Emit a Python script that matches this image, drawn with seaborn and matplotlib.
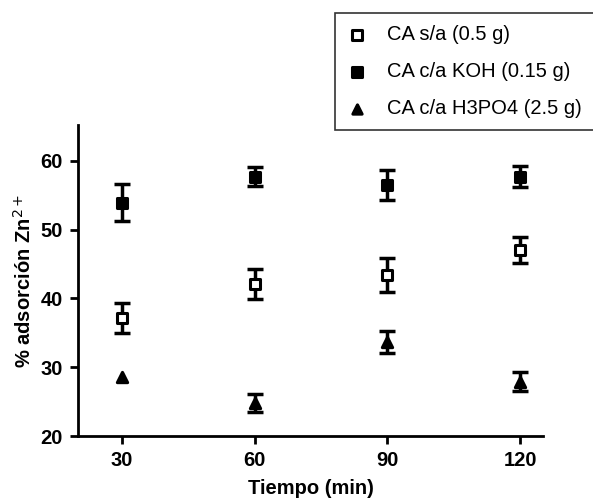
import matplotlib
matplotlib.use("Agg")
import matplotlib.pyplot as plt
import seaborn as sns
import pandas as pd

tiempo = [30, 60, 90, 120]
series = ["CA s/a (0.5 g)", "CA c/a KOH (0.15 g)", "CA c/a H3PO4 (2.5 g)"]
ca_sa = [37.2, 42.1, 43.4, 47.0]
ca_sa_err = [2.2, 2.2, 2.5, 1.9]
ca_koh = [53.9, 57.7, 56.5, 57.7]
ca_koh_err = [2.7, 1.4, 2.2, 1.5]
ca_h3po4 = [28.6, 24.8, 33.7, 27.9]
ca_h3po4_err = [0.0, 1.3, 1.6, 1.4]

rows = []
for name, vals, errs in zip(series, [ca_sa, ca_koh, ca_h3po4],
                            [ca_sa_err, ca_koh_err, ca_h3po4_err]):
    for t, v, e in zip(tiempo, vals, errs):
        rows.append({"Tiempo": t, "adsorcion": v, "err": e, "serie": name})
df = pd.DataFrame(rows)

sns.set_style("ticks")
plt.rcParams['font.family'] = ['Liberation Sans', 'DejaVu Sans']
plt.rcParams.update({"text.color": "black", "axes.labelcolor": "black",
                     "xtick.color": "black", "ytick.color": "black"})

fig = plt.figure(figsize=(5.93, 5.0), dpi=100)
ax = fig.add_axes([0.1315, 0.128, 0.7842, 0.622])

styles = {
    series[0]: dict(marker="s", facecolor="white", size=55),
    series[1]: dict(marker="s", facecolor="black", size=55),
    series[2]: dict(marker="^", facecolor="black", size=55),
}

for name in series:
    d = df[df["serie"] == name]
    st = styles[name]
    e = d[d["err"] > 0]
    ax.errorbar(e["Tiempo"], e["adsorcion"], yerr=e["err"], fmt="none",
                ecolor="black", elinewidth=2.5, capsize=5.5, capthick=2.5, zorder=2)
    sns.scatterplot(data=d, x="Tiempo", y="adsorcion", ax=ax, marker=st["marker"],
                    s=st["size"], color=st["facecolor"], edgecolor="black",
                    linewidth=2.2, label=name, zorder=3)

ax.set_xlim(20, 125.2)
ax.set_ylim(20, 65.2)
ax.set_xticks(tiempo)
ax.set_yticks([20, 30, 40, 50, 60])
for lbl in ax.get_xticklabels() + ax.get_yticklabels():
    lbl.set_fontweight("bold")
ax.tick_params(axis="both", labelsize=14.5, width=2, length=6, color="black", pad=5)
for side in ["left", "bottom"]:
    ax.spines[side].set_linewidth(2)
    ax.spines[side].set_color("black")
sns.despine(ax=ax)

ax.set_xlabel("Tiempo (min)", fontsize=14.5, fontweight="bold", labelpad=6)
ax.set_ylabel("% adsorción Zn$^{2+}$", fontsize=14.5, fontweight="bold", labelpad=4)

ax.get_legend().remove()
handles, labels = ax.get_legend_handles_labels()
leg = fig.legend(handles, labels, loc="upper left",
                 bbox_to_anchor=(335 / 593, 1 - 13 / 500), fontsize=14.5,
                 frameon=True, fancybox=False, edgecolor="black",
                 borderaxespad=0, handletextpad=1.0, handlelength=1.0,
                 borderpad=0.6, labelspacing=0.9, markerscale=0.9)
leg.get_frame().set_linewidth(1.2)

plt.savefig("out.png", dpi=100)
